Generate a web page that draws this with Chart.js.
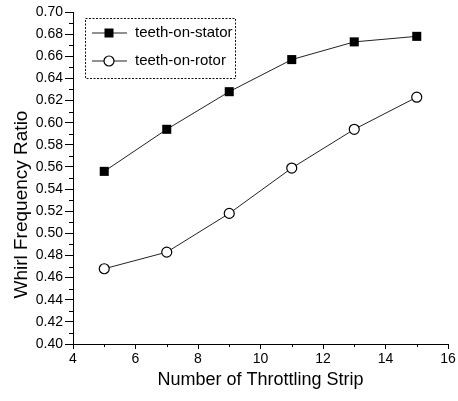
<!DOCTYPE html>
<html>
<head>
<meta charset="utf-8">
<script src="https://cdn.jsdelivr.net/npm/chart.js@4"></script>
<style>
html,body{margin:0;padding:0;background:#fff;}
#wrap{width:458px;height:401px;}
</style>
</head>
<body>
<div id="wrap"><canvas id="c" width="458" height="401"></canvas></div>
<script>
const stripCounts = [5, 7, 9, 11, 13, 15];
const statorRatio = [0.556, 0.594, 0.628, 0.657, 0.673, 0.678];
const rotorRatio  = [0.468, 0.483, 0.518, 0.559, 0.594, 0.623];
const seriesLabels = ['teeth-on-stator', 'teeth-on-rotor'];
const xTitle = 'Number of Throttling Strip';
const yTitle = 'Whirl Frequency Ratio';

const FONT = '"Liberation Sans", Arial, sans-serif';

function pts(ys){ return stripCounts.map((x,i)=>({x:x,y:ys[i]})); }

const minorTicks = {
  id:'minorTicks',
  afterDraw(chart){
    const ctx = chart.ctx, xs = chart.scales.x, ys = chart.scales.y;
    ctx.save();
    ctx.strokeStyle = '#000';
    ctx.lineWidth = 1;
    ctx.beginPath();
    for (let v = 0.41; v < 0.70; v += 0.02) {
      const py = Math.round(ys.getPixelForValue(v)) + 0.5;
      ctx.moveTo(xs.left - 4, py); ctx.lineTo(xs.left, py);
    }
    for (let v = 5; v < 16; v += 2) {
      const px = Math.round(xs.getPixelForValue(v)) + 0.5;
      ctx.moveTo(px, ys.bottom); ctx.lineTo(px, ys.bottom + 3);
    }
    ctx.stroke();
    ctx.restore();
  }
};

const yTitlePlugin = {
  id:'yTitlePlugin',
  afterDraw(chart){
    const ctx = chart.ctx, a = chart.chartArea;
    ctx.save();
    ctx.translate(22, a.top + (a.bottom - a.top) * 0.58);
    ctx.rotate(-Math.PI/2);
    ctx.fillStyle = '#000';
    ctx.font = '19px ' + FONT;
    ctx.textAlign = 'center';
    ctx.textBaseline = 'middle';
    ctx.fillText(yTitle, 0, 0);
    ctx.restore();
  }
};

const boxLegend = {
  id:'boxLegend',
  afterDraw(chart){
    const ctx = chart.ctx, a = chart.chartArea;
    const bx = a.left + 12, by = a.top + 6, bw = 150, bh = 60;
    ctx.save();
    ctx.setLineDash([2,1.5]);
    ctx.strokeStyle = '#111';
    ctx.lineWidth = 1;
    ctx.strokeRect(bx + 0.5, by + 0.5, bw, bh);
    ctx.setLineDash([]);
    chart.data.datasets.forEach((ds, i) => {
      const cy = by + 15 + i * 28;
      const lx0 = bx + 7, lx1 = bx + 42, mx = bx + 24;
      ctx.strokeStyle = '#222';
      ctx.lineWidth = 1;
      ctx.beginPath(); ctx.moveTo(lx0, cy); ctx.lineTo(lx1, cy); ctx.stroke();
      if (i === 0) {
        ctx.fillStyle = '#000';
        ctx.fillRect(mx - 4.5, cy - 4.5, 9, 9);
      } else {
        ctx.fillStyle = '#fff';
        ctx.beginPath(); ctx.arc(mx, cy, 5, 0, Math.PI*2); ctx.fill();
        ctx.lineWidth = 1.2; ctx.strokeStyle = '#000'; ctx.stroke();
      }
      ctx.fillStyle = '#000';
      ctx.font = '15px ' + FONT;
      ctx.textBaseline = 'middle';
      ctx.textAlign = 'left';
      ctx.fillText(ds.label, bx + 50, cy);
    });
    ctx.restore();
  }
};

new Chart(document.getElementById('c'), {
  type:'line',
  data:{
    datasets:[
      {label:seriesLabels[0], data:pts(statorRatio), borderColor:'#222', borderWidth:1,
       pointStyle:'rect', pointRadius:6.4, pointBackgroundColor:'#000', pointBorderColor:'#000', pointBorderWidth:0},
      {label:seriesLabels[1], data:pts(rotorRatio), borderColor:'#222', borderWidth:1,
       pointStyle:'circle', pointRadius:5, pointBackgroundColor:'#fff', pointBorderColor:'#000', pointBorderWidth:1.2}
    ]
  },
  options:{
    responsive:false, animation:false,
    layout:{padding:{top:12, right:10, left:0, bottom:0}},
    plugins:{legend:{display:false}, tooltip:{enabled:false}},
    scales:{
      x:{type:'linear', min:4, max:16,
        ticks:{stepSize:2, color:'#000', font:{family:FONT, size:14}, padding:2, maxRotation:0},
        grid:{drawOnChartArea:false, drawTicks:true, tickLength:5, color:'#000'},
        border:{display:true, color:'#000', width:1},
        title:{display:true, text:xTitle, color:'#000', font:{family:FONT, size:18}, padding:{top:4, bottom:10}},
        afterFit(s){ s.height = 57; }
      },
      y:{type:'linear', min:0.40, max:0.70,
        ticks:{stepSize:0.02, color:'#000', font:{family:FONT, size:14}, padding:2,
          callback:(v)=>v.toFixed(2)},
        grid:{drawOnChartArea:false, drawTicks:true, tickLength:8, color:'#000'},
        border:{display:true, color:'#000', width:1},
        title:{display:false},
        afterFit(s){ s.width = 73; }
      }
    }
  },
  plugins:[minorTicks, yTitlePlugin, boxLegend]
});
</script>
</body>
</html>
